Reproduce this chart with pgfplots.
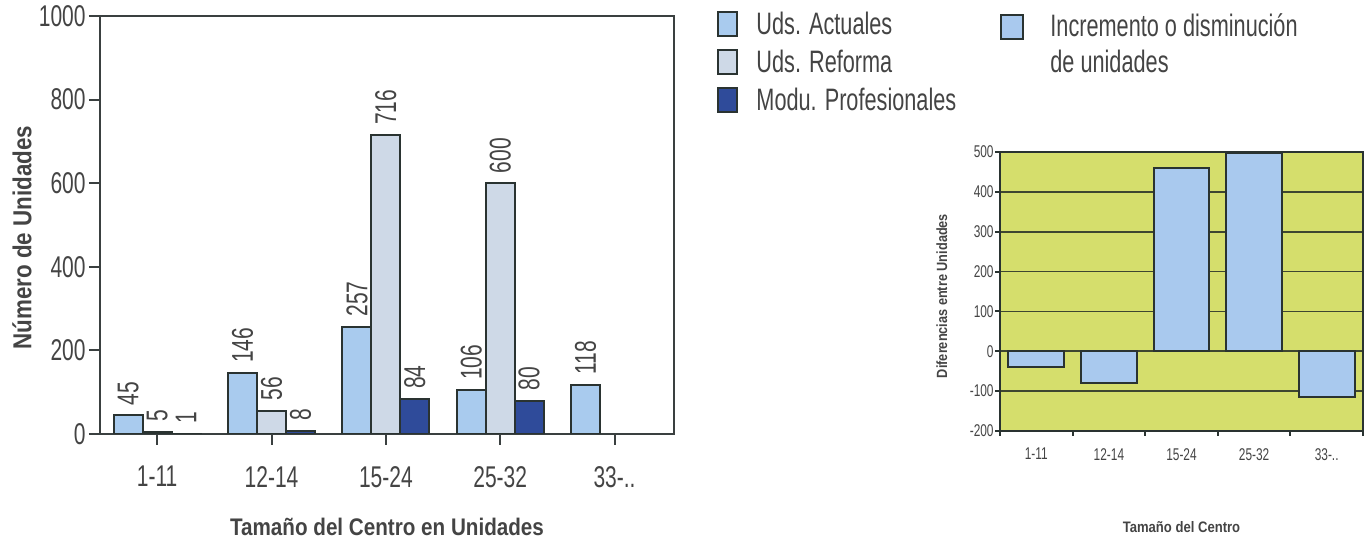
\documentclass[border=0pt]{standalone}
\usepackage{pgfplots}
\pgfplotsset{compat=1.18}
\usepackage{fontspec}
\setmainfont{Liberation Sans}[FakeStretch=0.7]
\newfontfamily\labfont{Liberation Sans}[FakeStretch=0.86]
\definecolor{actual}{HTML}{A9CBEE}
\definecolor{reforma}{HTML}{CED9E7}
\definecolor{modu}{HTML}{2F4B9A}
\definecolor{edge}{HTML}{2A3331}
\definecolor{axisgray}{HTML}{3A4040}
\definecolor{txt}{HTML}{444444}
\definecolor{chartbg}{HTML}{D5DE6C}
\definecolor{diffbar}{HTML}{A9C9EE}
\definecolor{gridc}{HTML}{3E4630}
\begin{document}
\begin{tikzpicture}
\useasboundingbox (0,0) rectangle (685.5pt,270pt);
% ---------------- left chart ----------------
\begin{axis}[
  at={(50pt,53pt)}, anchor=south west,
  width=287pt, height=209pt, scale only axis,
  xmin=-0.5, xmax=4.52, ymin=0, ymax=1000,
  ybar=0pt, bar width=0.253,
  xtick={0,1,2,3,4}, xticklabels={1-11,12-14,15-24,25-32,33-..},
  ytick={0,200,...,1000},
  tick pos=left, tick align=outside, major tick length=5.5pt,
  axis line style={axisgray, line width=1pt},
  tick style={axisgray, line width=1pt},
  /pgf/number format/assume math mode=true,
  /pgf/number format/1000 sep={},
  ticklabel style={font=\fontsize{15}{18}\selectfont, text=txt},
  xticklabel style={yshift=-7pt},
  yticklabel style={inner xsep=1.5pt},
  xlabel={Tamaño del Centro en Unidades},
  ylabel={Número de Unidades},
  xlabel style={font=\labfont\bfseries\fontsize{12}{14}\selectfont, text=txt,
    at={(axis description cs:0.5,-0.222)}, anchor=center},
  ylabel style={font=\labfont\bfseries\fontsize{13}{15}\selectfont, text=txt,
    at={(axis description cs:-0.136,0.47)}, anchor=center},
  nodes near coords,
  nodes near coords align={horizontal},
  every node near coord/.append style={rotate=90, anchor=west,
    font=\fontsize{15}{17}\selectfont, text=txt, inner xsep=4.5pt, inner ysep=0pt},
  legend style={at={(axis description cs:1.075,1.012)}, anchor=north west,
    draw=none, fill=none, font=\fontsize{15.5}{18}\selectfont, text=txt,
    row sep=6pt, column sep=9pt, inner sep=0pt,
    nodes={inner sep=0pt, anchor=base west}},
  legend cell align=left,
]
\addplot[fill=actual, draw=edge, line width=1pt,
  legend image code/.code={\draw[fill=actual, draw=edge, line width=1pt] (0pt,-1pt) rectangle (9.5pt,11pt);}]
  coordinates {(0,45) (1,146) (2,257) (3,106) (4,118)};
\addplot[fill=reforma, draw=edge, line width=1pt,
  legend image code/.code={\draw[fill=reforma, draw=edge, line width=1pt] (0pt,-1pt) rectangle (9.5pt,11pt);}]
  coordinates {(0,5) (1,56) (2,716) (3,600)};
\addplot[fill=modu, draw=edge, line width=1pt,
  legend image code/.code={\draw[fill=modu, draw=edge, line width=1pt] (0pt,-1pt) rectangle (9.5pt,11pt);}]
  coordinates {(0,1) (1,8) (2,84) (3,80)};
\legend{Uds. Actuales, Uds. Reforma, Modu. Profesionales}
\end{axis}
% ---------------- right chart ----------------
\begin{axis}[
  at={(500pt,54.5pt)}, anchor=south west,
  width=181.5pt, height=139.5pt, scale only axis,
  xmin=-0.5, xmax=4.5, ymin=-200, ymax=500,
  axis background/.style={fill=chartbg},
  ybar, bar width=0.77,
  xtick={-0.5,0.5,1.5,2.5,3.5,4.5},
  xticklabels={1-11,12-14,15-24,25-32,33-..,},
  xticklabel style={xshift=18.15pt, yshift=-2.6pt},
  ytick={-200,-100,...,500},
  yticklabel style={inner xsep=0.5pt},
  ymajorgrids, grid style={gridc, line width=0.8pt},
  tick pos=left, tick align=outside, major tick length=2.5pt,
  axis line style={edge, line width=1.3pt},
  tick style={edge, line width=1pt},
  /pgf/number format/assume math mode=true,
  ticklabel style={font=\fontsize{8.5}{10}\selectfont, text=txt},
  xlabel={Tamaño del Centro},
  ylabel={Diferencias entre Unidades},
  xlabel style={font=\labfont\bfseries\fontsize{7.6}{9}\selectfont, text=txt,
    at={(axis description cs:0.5,-0.344)}, anchor=center},
  ylabel style={font=\labfont\bfseries\fontsize{7.4}{9}\selectfont, text=txt,
    at={(axis description cs:-0.16,0.484)}, anchor=center},
  legend style={at={(axis description cs:0,1.505)}, anchor=north west,
    draw=none, fill=none, font=\fontsize{15.5}{18}\selectfont, text=txt,
    column sep=13pt, inner sep=0pt,
    nodes={inner sep=0pt, anchor=base west}},
  legend cell align=left,
]
\addplot[fill=diffbar, draw=edge, line width=1pt,
  legend image code/.code={\draw[fill=diffbar, draw=edge, line width=1pt] (0pt,-1pt) rectangle (11pt,11pt);}]
  coordinates {(0,-40) (1,-79) (2,460) (3,498) (4,-115)};
\addlegendentry{\begin{tabular}[t]{@{}l@{}}Incremento o disminución\\de unidades\end{tabular}}
\end{axis}
\end{tikzpicture}
\end{document}
